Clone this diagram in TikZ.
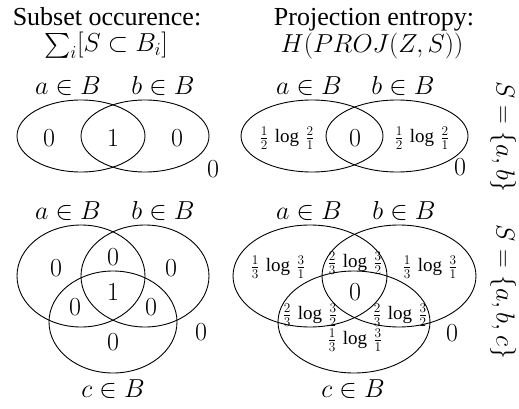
\RequirePackage{fix-cm}
\documentclass[tikz,border=0pt]{standalone}
\usepackage{amsmath}
\usepackage{fontspec}
\setmainfont{Liberation Serif}
\usetikzlibrary{positioning}

\begin{document}
\begin{tikzpicture}[x=1pt, y=-1pt, font=\fontsize{26}{30}\selectfont,
    set/.style={line width=0.9pt},
    val/.style={inner sep=0pt},
    head/.style={anchor=base, inner sep=0pt},
    ent/.style={inner sep=0pt, font=\fontsize{19}{22}\selectfont}]
  \useasboundingbox (0,0) rectangle (519,409);
  % Column titles
  \node[head] (occTitle) at (107,26) {Subset occurence:};
  \node[head] (occForm) at (106,52) {$\sum_i [S\subset B_i]$};
  \node[head] (entTitle) at (374,26) {Projection entropy:};
  \node[head] (entForm) at (372,53) {$H(PROJ(Z,S))$};
  % Row labels
  \node[rotate=-90, inner sep=0pt] (rowAB) at (503,137) {$S=\{a,b\}$};
  \node[rotate=-90, inner sep=0pt] (rowABC) at (503,292) {$S=\{a,b,c\}$};

  % S = {a,b}: subset occurence
  \draw[set] (81,136) ellipse [x radius=64, y radius=36];
  \draw[set] (145,136) ellipse [x radius=64, y radius=36];
  \node[anchor=base] (occABa) at (68,95) {$a\in B$};
  \node[anchor=base] (occABb) at (163,95) {$b\in B$};
  \foreach \x/\y/\v [count=\i] in {49/138/0, 113/138/1, 177/138/0, 213/169/0}
    \node[val] (occAB\i) at (\x,\y) {$\v$};

  % S = {a,b}: projection entropy
  \draw[set] (312,136) ellipse [x radius=71, y radius=36];
  \draw[set] (397,136) ellipse [x radius=71, y radius=36];
  \node[anchor=base] (entABa) at (309,95) {$a\in B$};
  \node[anchor=base] (entABb) at (403,95) {$b\in B$};
  \node[ent] (entAB1) at (287,138) {$\frac{1}{2}\,\log\,\frac{2}{1}$};
  \node[val] (entAB2) at (355,138) {$0$};
  \node[ent] (entAB3) at (422,138) {$\frac{1}{2}\,\log\,\frac{2}{1}$};
  \node[val] (entAB4) at (460,167) {$0$};

  % S = {a,b,c}: subset occurence
  \draw[set] (81,276) ellipse [x radius=64, y radius=51];
  \draw[set] (145,276) ellipse [x radius=64, y radius=51];
  \draw[set] (113,322) ellipse [x radius=64, y radius=51];
  \node[anchor=base] (occABCa) at (68,219) {$a\in B$};
  \node[anchor=base] (occABCb) at (163,219) {$b\in B$};
  \node[anchor=base] (occABCc) at (113,397) {$c\in B$};
  \foreach \x/\y/\v [count=\i] in {56/268/0, 113/257/0, 171/268/0, 113/292/1,
      75/307/0, 151/307/0, 113/342/0, 201/332/0}
    \node[val] (occABC\i) at (\x,\y) {$\v$};

  % S = {a,b,c}: projection entropy
  \draw[set] (310,276) ellipse [x radius=77, y radius=51];
  \draw[set] (399,276) ellipse [x radius=77, y radius=51];
  \draw[set] (354,322) ellipse [x radius=76, y radius=51];
  \node[anchor=base] (entABCa) at (309,219) {$a\in B$};
  \node[anchor=base] (entABCb) at (404,219) {$b\in B$};
  \node[anchor=base] (entABCc) at (353,397) {$c\in B$};
  \foreach \x/\y/\p/\q [count=\i] in {278/267/1/1, 355/263/2/2, 430/267/1/1,
      310/315/2/2, 400/315/2/2, 355/340/1/1}
    \node[ent] (entABC\i) at (\x,\y) {$\frac{\p}{3}\,\log\,\frac{3}{\q}$};
  \node[val] (entABC7) at (355,292) {$0$};
  \node[val] (entABC8) at (452,333) {$0$};
\end{tikzpicture}
\end{document}
